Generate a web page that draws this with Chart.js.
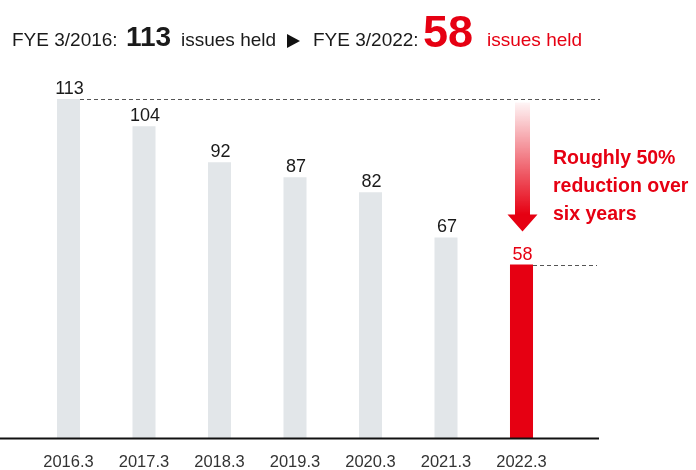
<!DOCTYPE html>
<html>
<head>
<meta charset="utf-8">
<script src="https://cdn.jsdelivr.net/npm/chart.js@4/dist/chart.umd.min.js"></script>
<style>
  html, body { margin: 0; padding: 0; background: #fff; }
  #wrap { width: 696px; height: 470px; position: relative; }
</style>
</head>
<body>
<div id="wrap"><canvas id="c" width="696" height="470"></canvas></div>
<script>
// Cross-shareholdings: number of issues held at each fiscal year end
const categories = ['2016.3', '2017.3', '2018.3', '2019.3', '2020.3', '2021.3', '2022.3'];
const issuesHeld = [113, 104, 92, 87, 82, 67, 58];
const yAxisMax = 120;

const headlineStart = 'FYE 3/2016:';
const headlineEnd = 'FYE 3/2022:';
const unitLabel = 'issues held';
const noteLines = ['Roughly 50%', 'reduction over', 'six years'];

const RED = '#e60012';
const GREY_BAR = '#e2e6e9';
const INK = '#1a1a1a';
const FONT = '"Liberation Sans", Arial, Helvetica, sans-serif';

const lastIdx = issuesHeld.length - 1;
const barColors = issuesHeld.map((_, i) => (i === lastIdx ? RED : GREY_BAR));

// Value labels above each bar
const valueLabels = {
  id: 'valueLabels',
  afterDatasetsDraw(chart) {
    const { ctx } = chart;
    const meta = chart.getDatasetMeta(0);
    ctx.save();
    ctx.font = '18px ' + FONT;
    ctx.textAlign = 'center';
    ctx.textBaseline = 'alphabetic';
    meta.data.forEach((bar, i) => {
      ctx.fillStyle = i === lastIdx ? RED : INK;
      ctx.fillText(String(issuesHeld[i]), bar.x + 1, bar.y - 5);
    });
    ctx.restore();
  }
};

// Baseline, reference dashes, reduction arrow, note and headline
const decorations = {
  id: 'decorations',
  afterDraw(chart) {
    const { ctx, chartArea, scales } = chart;
    const meta = chart.getDatasetMeta(0);
    const first = meta.data[0];
    const last = meta.data[lastIdx];
    const yFirst = Math.round(scales.y.getPixelForValue(issuesHeld[0])) + 0.5;
    const yLast = Math.round(scales.y.getPixelForValue(issuesHeld[lastIdx])) + 0.5;

    ctx.save();

    // baseline
    ctx.strokeStyle = '#111';
    ctx.lineWidth = 2;
    ctx.beginPath();
    ctx.moveTo(0, chartArea.bottom - 0.5);
    ctx.lineTo(599, chartArea.bottom - 0.5);
    ctx.stroke();

    // dashed reference lines at the first and last values
    ctx.strokeStyle = '#555';
    ctx.lineWidth = 1;
    ctx.setLineDash([4, 3]);
    ctx.beginPath();
    ctx.moveTo(first.x + first.width / 2, yFirst);
    ctx.lineTo(600, yFirst);
    ctx.moveTo(last.x + last.width / 2, yLast);
    ctx.lineTo(597, yLast);
    ctx.stroke();
    ctx.setLineDash([]);

    // gradient arrow pointing down to the last bar
    const cx = last.x + 1;
    const top = yFirst + 3;
    const tip = yLast - 34;
    const headBase = tip - 17;
    const grad = ctx.createLinearGradient(0, top, 0, headBase);
    grad.addColorStop(0, 'rgba(230,0,18,0.04)');
    grad.addColorStop(1, 'rgba(230,0,18,1)');
    ctx.fillStyle = grad;
    ctx.beginPath();
    ctx.moveTo(cx - 7.5, top);
    ctx.lineTo(cx + 7.5, top);
    ctx.lineTo(cx + 7.5, headBase);
    ctx.lineTo(cx + 15, headBase);
    ctx.lineTo(cx, tip);
    ctx.lineTo(cx - 15, headBase);
    ctx.lineTo(cx - 7.5, headBase);
    ctx.closePath();
    ctx.fill();

    // note beside the arrow
    ctx.fillStyle = RED;
    ctx.font = 'bold 19.5px ' + FONT;
    ctx.textAlign = 'left';
    ctx.textBaseline = 'alphabetic';
    noteLines.forEach((line, i) => ctx.fillText(line, 553, 164 + i * 28));

    // headline
    const base = 46;
    ctx.fillStyle = INK;
    ctx.font = '19px ' + FONT;
    ctx.fillText(headlineStart, 12, base);
    ctx.font = 'bold 28px ' + FONT;
    ctx.fillText(String(issuesHeld[0]), 126, base);
    ctx.font = '19px ' + FONT;
    ctx.fillText(unitLabel, 181, base);

    ctx.fillStyle = '#111';
    ctx.beginPath();
    ctx.moveTo(287, 34);
    ctx.lineTo(300, 41);
    ctx.lineTo(287, 48);
    ctx.closePath();
    ctx.fill();

    ctx.fillStyle = INK;
    ctx.font = '19px ' + FONT;
    ctx.fillText(headlineEnd, 313, base);
    ctx.fillStyle = RED;
    ctx.font = 'bold 45px ' + FONT;
    ctx.fillText(String(issuesHeld[lastIdx]), 423, base + 1);
    ctx.font = '19px ' + FONT;
    ctx.fillText(unitLabel, 487, base);

    ctx.restore();
  }
};

new Chart(document.getElementById('c'), {
  type: 'bar',
  data: {
    labels: categories,
    datasets: [{
      data: issuesHeld,
      backgroundColor: barColors,
      borderWidth: 0,
      categoryPercentage: 1,
      barPercentage: 0.305
    }]
  },
  options: {
    responsive: false,
    animation: false,
    events: [],
    devicePixelRatio: 1,
    layout: { padding: { left: 30.75, right: 136.75, top: 78, bottom: 0 } },
    plugins: { legend: { display: false }, tooltip: { enabled: false }, title: { display: false } },
    scales: {
      y: { display: false, min: 0, max: yAxisMax },
      x: {
        grid: { display: false, drawTicks: false },
        border: { display: false },
        ticks: {
          color: '#333',
          font: { family: FONT, size: 16.5 },
          padding: 14,
          maxRotation: 0,
          autoSkip: false
        },
        afterFit(scale) { scale.height = 31; }
      }
    }
  },
  plugins: [valueLabels, decorations]
});
</script>
</body>
</html>
